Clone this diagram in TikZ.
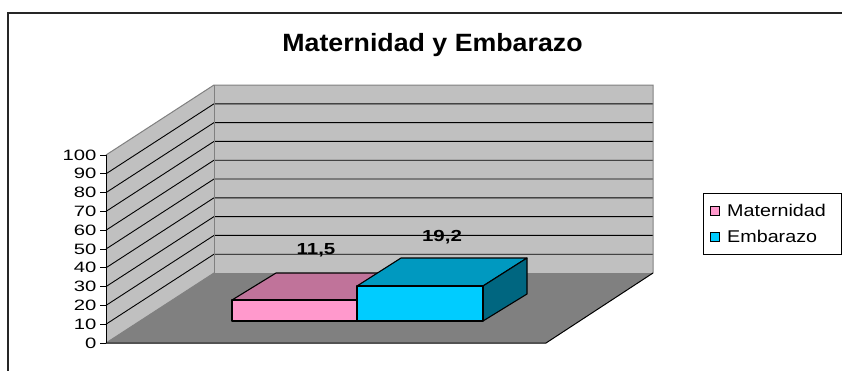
\documentclass[tikz,border=0pt]{standalone}
\usepackage{fontspec}
\setmainfont{Liberation Sans}
\newfontfamily\titlefont[FakeStretch=1.07]{Liberation Sans}
\newfontfamily\tickfont[FakeStretch=1.35]{Liberation Sans}
\newfontfamily\legfont[FakeStretch=1.16]{Liberation Sans}
\newfontfamily\valfont[FakeStretch=1.28]{Liberation Sans}
\definecolor{wallc}{HTML}{C0C0C0}
\definecolor{floorc}{HTML}{808080}
\definecolor{edgec}{HTML}{808080}
\definecolor{pinkf}{HTML}{FF99CC}
\definecolor{pinkt}{HTML}{C0739A}
\definecolor{bluef}{HTML}{00CCFF}
\definecolor{bluet}{HTML}{0099C0}
\definecolor{blues}{HTML}{006680}
\tikzset{
  barface/.style={draw=black, line width=1.1pt, line join=round},
  gridln/.style={draw=black, line width=0.9pt},
  ticklbl/.style={anchor=east, inner sep=0pt, font=\tickfont\fontsize{15}{15}\selectfont},
  leglbl/.style={anchor=base west, inner sep=0pt, font=\legfont\fontsize{17}{17}\selectfont},
  vallbl/.style={anchor=base, inner sep=0pt, font=\valfont\bfseries\fontsize{16}{16}\selectfont},
  swatch/.style={draw=black, line width=0.9pt}
}
\begin{document}
\begin{tikzpicture}[x=1pt,y=-1pt]
\useasboundingbox (0,0) rectangle (842,370);
\fill[white] (0,0) rectangle (842,370);
% outer frame
\draw[line width=2pt, black!85] (8,375) -- (8,13) -- (848,13);
% walls and floor
\fill[wallc] (106,343) -- (214,273) -- (214,85) -- (106,155) -- cycle;
\fill[wallc] (214,273) rectangle (653,85);
\fill[floorc] (106,343) -- (214,273) -- (653,273) -- (546,343) -- cycle;
\foreach \k in {1,...,9} {
  \draw[gridln] (106,{343-18.8*\k}) -- (214,{273-18.8*\k}) -- (653,{273-18.8*\k});
}
\draw[edgec, line width=1pt] (106,155) -- (214,85) -- (653,85) -- (653,273);
\draw[edgec, line width=1pt] (214,85) -- (214,273);
\draw[edgec, line width=1pt] (106,343) -- (214,273);
\draw[black, line width=1pt] (106,343) -- (546,343) -- (653,273);
% axis
\draw[black, line width=1pt] (106,155) -- (106,343);
\foreach \k in {0,...,10} {
  \draw[black, line width=1pt] (100,{343-18.8*\k}) -- (106,{343-18.8*\k});
  \pgfmathtruncatemacro{\v}{10*\k}
  \node[ticklbl] (tick\k) at (96.5,{343-18.8*\k}) {\v};
}
% pink bar
\filldraw[barface, fill=pinkt] (232,300) -- (276,273) -- (401,273) -- (357,300) -- cycle;
\filldraw[barface, fill=pinkf] (232,300) rectangle (357,321);
% blue bar
\filldraw[barface, fill=bluet] (357,286) -- (401,258) -- (527,258) -- (483,286) -- cycle;
\filldraw[barface, fill=blues] (483,286) -- (527,258) -- (527,294) -- (483,321) -- cycle;
\filldraw[barface, fill=bluef] (357,286) rectangle (483,321);
% value labels
\node[vallbl] (v1) at (316,254) {11,5};
\node[vallbl] (v2) at (442,241) {19,2};
% title
\node[anchor=base, inner sep=0pt, font=\titlefont\bfseries\fontsize{25}{25}\selectfont] (title) at (432.5,51) {Maternidad y Embarazo};
% legend
\draw[black, line width=0.9pt] (703,193) rectangle (841,254);
\filldraw[swatch, fill=pinkf] (710,206) rectangle (719,215);
\node[leglbl] (l1) at (727,216) {Maternidad};
\filldraw[swatch, fill=bluef] (710,232) rectangle (719,241);
\node[leglbl] (l2) at (727,242) {Embarazo};
\end{tikzpicture}
\end{document}
